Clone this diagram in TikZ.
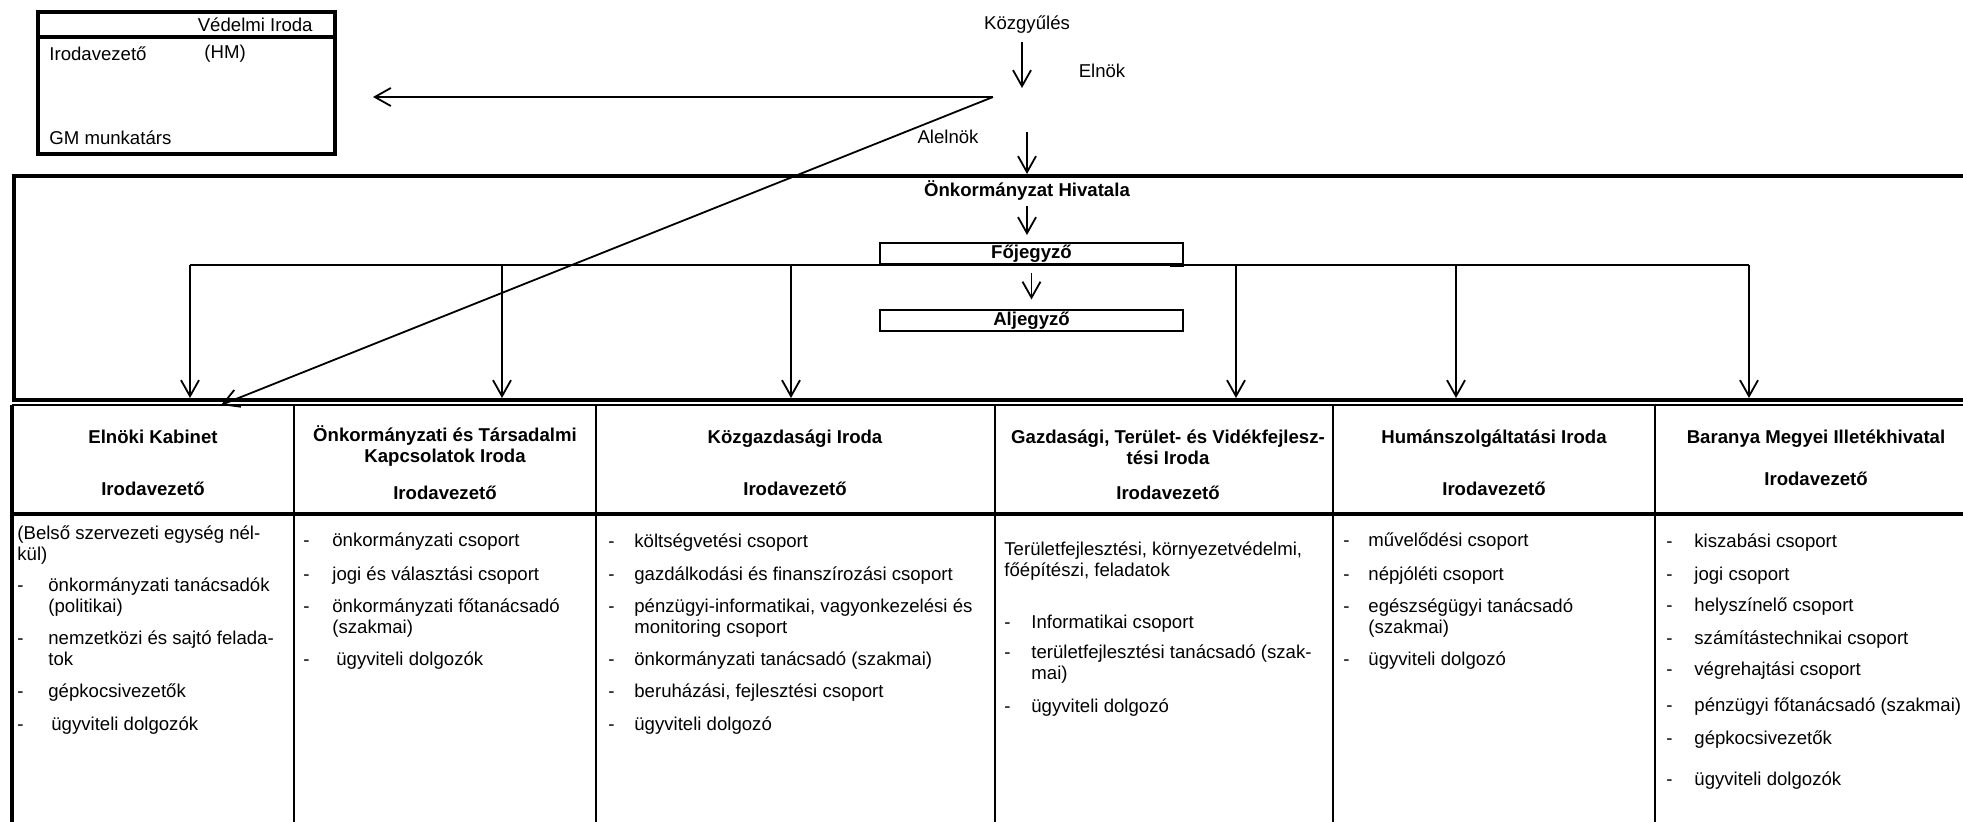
\documentclass[tikz,border=0pt]{standalone}
\usepackage{fontspec}
\setmainfont{Liberation Sans}
\usetikzlibrary{arrows.meta}

\newcommand{\tetel}[2][13.5pt]{\makebox[#1][l]{-}#2}
\newcommand{\folyt}[1][13.5pt]{\hspace*{#1}}
\newcommand{\elso}{\rule{0pt}{1em}}
\lineskiplimit=-20pt

\begin{document}
\begin{tikzpicture}[x=0.5pt,y=-0.5pt,>={Straight Barb[length=8pt,width=9pt]},
    every node/.style={inner sep=0pt,font=\fontsize{9.3}{10.5}\selectfont},
    cim node/.style={font=\fontsize{9.3}{10.5}\selectfont\bfseries,align=center,anchor=north},
    lista node/.style={align=left,anchor=north west},
    jegyzo node/.style={draw,line width=1pt,minimum width=151.5pt,minimum height=10.5pt,font=\fontsize{9.3}{10.5}\selectfont\bfseries},
    nyil/.style={->,line width=0.9pt},
    vastag/.style={line width=2pt}]
    \useasboundingbox (0,0) rectangle (1963,822);

    % Vedelmi Iroda
    \node[draw,vastag,anchor=north west,minimum width=148.5pt,minimum height=71pt] (vedelmi) at (36,10) {};
    \draw[vastag] (vedelmi.west |- 0,37) -- (vedelmi.east |- 0,37);
    \node[anchor=east] (vedcim) at (313,25) {Védelmi Iroda};
    \node[anchor=west] (vedvez) at (49,54) {Irodavezető};
    \node[anchor=west] (hm) at (204,54) {(HM)};
    \node[anchor=west] (gm) at (49,138) {GM munkatárs};

    % felso resz
    \node (kozgy) at (1027,25) {Közgyűlés};
    \node (elnok) at (1102,71) {Elnök};
    \node (alelnok) at (948,137) {Alelnök};
    \coordinate (k1) at (1022,88);
    \coordinate (k2) at (1027,132);
    \coordinate (hub) at (993,97);
    \coordinate (vtip) at (373,97);
    \coordinate (ktip) at (221,405);

    % hivatal
    \node[draw,vastag,anchor=north west,minimum width=990pt,minimum height=112pt] (hivatal) at (12,174) {};
    \node[font=\fontsize{9.3}{10.5}\selectfont\bfseries] (hivcim) at (1027,190) {Önkormányzat Hivatala};
    \node[jegyzo node] (fojegyzo) at (1031.5,253.5) {Főjegyző};
    \node[jegyzo node] (aljegyzo) at (1031.5,321) {Aljegyző};

    \draw[nyil,shorten <=4pt] (kozgy.south -| k1) -- (k1);
    \draw[nyil] (k2) -- (k2 |- hivatal.north);
    \draw[nyil] (hub) -- (vtip);
    \draw[nyil] (hub) -- (ktip);
    \draw[nyil,shorten <=3pt,shorten >=3.5pt] (hivcim.south) -- (hivcim.south |- fojegyzo.north);
    \draw[nyil,shorten <=4pt,shorten >=5pt] (fojegyzo) -- (aljegyzo);
    \draw[line width=1.6pt] ([xshift=-7pt]fojegyzo.south east) -- (fojegyzo.south east);

    \foreach \x [count=\i] in {190,502,791,1236,1456,1749}
        \coordinate (le\i) at (\x,398);
    \draw[line width=1pt] (fojegyzo.south -| le1) -- (fojegyzo.south -| le6);
    \foreach \i in {1,...,6}
        \draw[nyil] (fojegyzo.south -| le\i) -- (le\i);

    % tablazat
    \draw[line width=1pt] (12,405) -- (1992,405);
    \draw[vastag] (12,405) -- (12,830);
    \draw[vastag] (12,514) -- (1992,514);
    \foreach \x in {294,596,995,1333,1655}
        \draw[line width=1pt] (\x,405) -- (\x,830);

    \node[cim node] (fej1) at (153,425) {\elso Elnöki Kabinet\\[15.5pt]Irodavezető};
    \node[cim node] (fej2) at (445,423) {\elso Önkormányzati és Társadalmi\\Kapcsolatok Iroda\\[8pt]Irodavezető};
    \node[cim node] (fej3) at (795,425) {\elso Közgazdasági Iroda\\[15.5pt]Irodavezető};
    \node[cim node] (fej4) at (1168,425) {\elso Gazdasági, Terület- és Vidékfejlesz-\\tési Iroda\\[7pt]Irodavezető};
    \node[cim node] (fej5) at (1494,425) {\elso Humánszolgáltatási Iroda\\[15.5pt]Irodavezető};
    \node[cim node] (fej6) at (1816,425) {\elso Baranya Megyei Illetékhivatal\\[10.5pt]Irodavezető};

    \node[lista node] (test1) at (17,520) {\elso(Belső szervezeti egység nél-\\kül)\\[5pt]%
        \tetel[15.5pt]{önkormányzati tanácsadók}\\\folyt[15.5pt](politikai)\\[5.5pt]%
        \tetel[15.5pt]{nemzetközi és sajtó felada-}\\\folyt[15.5pt]tok\\[5.5pt]%
        \tetel[15.5pt]{gépkocsivezetők}\\[6pt]%
        \tetel[15.5pt]{\hspace*{1.5pt}ügyviteli dolgozók}};
    \node[lista node] (test2) at (303,528) {\elso\tetel[14.5pt]{önkormányzati csoport}\\[6pt]%
        \tetel[14.5pt]{jogi és választási csoport}\\[5.5pt]%
        \tetel[14.5pt]{önkormányzati főtanácsadó}\\\folyt[14.5pt](szakmai)\\[5.5pt]%
        \tetel[14.5pt]{\hspace*{2pt}ügyviteli dolgozók}};
    \node[lista node] (test3) at (608,528) {\elso\tetel[13pt]{költségvetési csoport}\\[6pt]%
        \tetel[13pt]{gazdálkodási és finanszírozási csoport}\\[5.5pt]%
        \tetel[13pt]{pénzügyi-informatikai, vagyonkezelési és}\\\folyt[13pt]monitoring csoport\\[5.5pt]%
        \tetel[13pt]{önkormányzati tanácsadó (szakmai)}\\[5.5pt]%
        \tetel[13pt]{beruházási, fejlesztési csoport}\\[6pt]%
        \tetel[13pt]{ügyviteli dolgozó}};
    \node[lista node] (test4) at (1004,536) {\elso Területfejlesztési, környezetvédelmi,\\főépítészi, feladatok\\[15.5pt]%
        \tetel{Informatikai csoport}\\[4.5pt]%
        \tetel{területfejlesztési tanácsadó (szak-}\\\folyt mai)\\[6pt]%
        \tetel{ügyviteli dolgozó}};
    \node[lista node] (test5) at (1343,528) {\elso\tetel[12.5pt]{művelődési csoport}\\[6pt]%
        \tetel[12.5pt]{népjóléti csoport}\\[5.5pt]%
        \tetel[12.5pt]{egészségügyi tanácsadó}\\\folyt[12.5pt](szakmai)\\[5.5pt]%
        \tetel[12.5pt]{ügyviteli dolgozó}};
    \node[lista node] (test6) at (1666,528) {\elso\tetel[14pt]{kiszabási csoport}\\[6pt]%
        \tetel[14pt]{jogi csoport}\\[5pt]%
        \tetel[14pt]{helyszínelő csoport}\\[6pt]%
        \tetel[14pt]{számítástechnikai csoport}\\[5pt]%
        \tetel[14pt]{végrehajtási csoport}\\[7.5pt]%
        \tetel[14pt]{pénzügyi főtanácsadó (szakmai)}\\[6pt]%
        \tetel[14pt]{gépkocsivezetők}\\[10pt]%
        \tetel[14pt]{ügyviteli dolgozók}};
\end{tikzpicture}
\end{document}
